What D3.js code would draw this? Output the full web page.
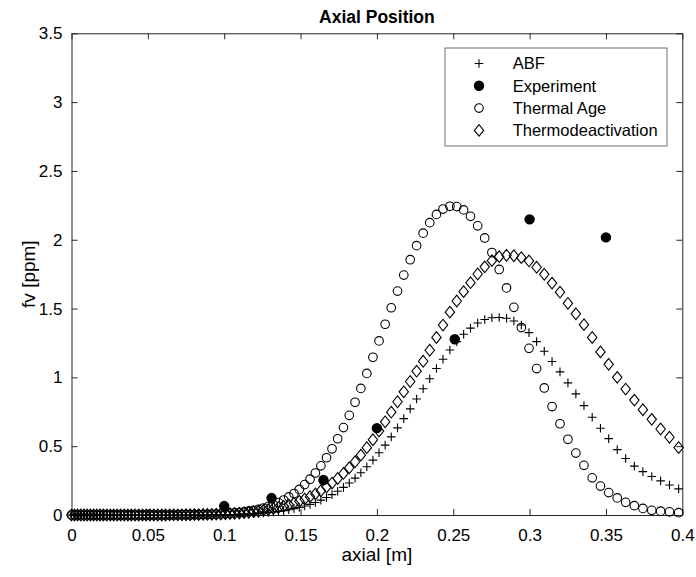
<!DOCTYPE html>
<html>
<head>
<meta charset="utf-8">
<script src="https://cdn.jsdelivr.net/npm/d3@7"></script>
<style>
  body { margin: 0; background: #fff; }
  svg { display: block; }
  text { font-family: "Liberation Sans", Arial, sans-serif; fill: #000; }
</style>
</head>
<body>
<div class="chart"></div>
<script>
// axial positions (m), shared by the three model series
var axial = [0, 0.002, 0.004, 0.0061, 0.0081, 0.0102, 0.0123, 0.0144, 0.0166, 0.0187,
  0.0209, 0.0231, 0.0254, 0.0276, 0.0299, 0.0322, 0.0345, 0.0369, 0.0392, 0.0416,
  0.044, 0.0465, 0.0489, 0.0514, 0.0539, 0.0565, 0.0591, 0.0616, 0.0643, 0.0669,
  0.0696, 0.0723, 0.075, 0.0777, 0.0805, 0.0833, 0.0862, 0.089, 0.0919, 0.0948,
  0.0978, 0.1008, 0.1038, 0.1068, 0.1099, 0.113, 0.1161, 0.1193, 0.1224, 0.1257,
  0.1289, 0.1322, 0.1355, 0.1389, 0.1423, 0.1457, 0.1492, 0.1527, 0.1562, 0.1597,
  0.1633, 0.167, 0.1706, 0.1743, 0.1781, 0.1819, 0.1857, 0.1895, 0.1934, 0.1974,
  0.2014, 0.2054, 0.2094, 0.2135, 0.2176, 0.2218, 0.226, 0.2303, 0.2346, 0.239,
  0.2433, 0.2478, 0.2523, 0.2568, 0.2613, 0.266, 0.2706, 0.2753, 0.2801, 0.2849,
  0.2897, 0.2946, 0.2996, 0.3046, 0.3096, 0.3147, 0.3199, 0.3251, 0.3303, 0.3356,
  0.341, 0.3464, 0.3518, 0.3574, 0.3629, 0.3686, 0.3742, 0.38, 0.3858, 0.3916, 0.3976];

var abf = [0, 0, 0, 0, 0, 0, 0, 0, 0, 0,
  0, 0, 0, 0, 0, 0, 0, 0, 0, 0,
  0, 0, 0, 0, 0, 0, 0, 0, 0, 0,
  0, 0, 0, 0, 0.001, 0.001, 0.001, 0.001, 0.002, 0.002,
  0.002, 0.003, 0.004, 0.004, 0.006, 0.007, 0.008, 0.010, 0.012, 0.015,
  0.018, 0.022, 0.026, 0.032, 0.038, 0.046, 0.055, 0.065, 0.077, 0.091,
  0.108, 0.127, 0.148, 0.173, 0.201, 0.233, 0.268, 0.307, 0.351, 0.399,
  0.452, 0.508, 0.568, 0.633, 0.700, 0.771, 0.843, 0.917, 0.990, 1.064,
  1.132, 1.199, 1.260, 1.313, 1.358, 1.395, 1.420, 1.433, 1.435, 1.430,
  1.410, 1.380, 1.325, 1.260, 1.190, 1.115, 1.040, 0.960, 0.880, 0.795,
  0.710, 0.630, 0.555, 0.475, 0.410, 0.355, 0.315, 0.280, 0.248, 0.218, 0.190];

var thermalAge = [0, 0, 0, 0, 0, 0, 0, 0, 0, 0,
  0, 0, 0, 0, 0, 0, 0, 0, 0, 0,
  0, 0, 0, 0, 0, 0, 0, 0, 0, 0,
  0.001, 0.001, 0.001, 0.001, 0.002, 0.002, 0.003, 0.004, 0.005, 0.006,
  0.008, 0.009, 0.012, 0.015, 0.018, 0.022, 0.028, 0.034, 0.041, 0.051,
  0.061, 0.075, 0.090, 0.109, 0.131, 0.156, 0.186, 0.221, 0.260, 0.305,
  0.357, 0.416, 0.481, 0.554, 0.635, 0.724, 0.819, 0.920, 1.029, 1.146,
  1.265, 1.386, 1.506, 1.627, 1.743, 1.855, 1.957, 2.048, 2.124, 2.184,
  2.223, 2.243, 2.241, 2.217, 2.170, 2.101, 2.013, 1.907, 1.784, 1.650,
  1.509, 1.362, 1.211, 1.064, 0.923, 0.788, 0.663, 0.550, 0.450, 0.361,
  0.270, 0.210, 0.163, 0.124, 0.092, 0.068, 0.048, 0.034, 0.028, 0.023, 0.017];

var thermoDeact = [0, 0, 0, 0, 0, 0, 0, 0, 0, 0,
  0, 0, 0, 0, 0, 0, 0, 0, 0, 0,
  0, 0, 0, 0, 0, 0, 0, 0, 0.001, 0.001,
  0.001, 0.001, 0.002, 0.002, 0.003, 0.003, 0.004, 0.004, 0.005, 0.006,
  0.007, 0.009, 0.010, 0.012, 0.014, 0.017, 0.020, 0.024, 0.028, 0.034,
  0.039, 0.046, 0.054, 0.063, 0.074, 0.085, 0.100, 0.116, 0.133, 0.153,
  0.176, 0.203, 0.232, 0.265, 0.302, 0.343, 0.387, 0.435, 0.489, 0.547,
  0.610, 0.677, 0.747, 0.823, 0.895, 0.970, 1.045, 1.117, 1.197, 1.290,
  1.380, 1.474, 1.555, 1.623, 1.688, 1.751, 1.803, 1.848, 1.877, 1.887,
  1.884, 1.870, 1.846, 1.800, 1.749, 1.685, 1.619, 1.538, 1.462, 1.383,
  1.290, 1.185, 1.095, 1.000, 0.915, 0.835, 0.765, 0.695, 0.625, 0.565, 0.490];

// measured points
var expX = [0.1, 0.131, 0.165, 0.2, 0.251, 0.3, 0.35];
var expY = [0.065, 0.123, 0.254, 0.631, 1.277, 2.148, 2.017];

var xTicks = [0, 0.05, 0.1, 0.15, 0.2, 0.25, 0.3, 0.35, 0.4];
var xTickLabels = ["0", "0.05", "0.1", "0.15", "0.2", "0.25", "0.3", "0.35", "0.4"];
var yTicks = [0, 0.5, 1, 1.5, 2, 2.5, 3, 3.5];
var yTickLabels = ["0", "0.5", "1", "1.5", "2", "2.5", "3", "3.5"];
var legendLabels = ["ABF", "Experiment", "Thermal Age", "Thermodeactivation"];

var width = 696, height = 577;
var plot = { left: 71.5, right: 682.3, top: 33.3, bottom: 515 };
var axisColor = "#262626";

var svg = d3.select(".chart").append("svg")
    .attr("width", width)
    .attr("height", height);

var x = d3.scaleLinear().domain([0, 0.4]).range([plot.left, plot.right]);
var y = d3.scaleLinear().domain([0, 3.5]).range([plot.bottom, plot.top]);

var plusPath = "M-4.3,0H4.3M0,-4.3V4.3";
var diamondPath = "M0,-5.8L4.7,0L0,5.8L-4.7,0Z";

// axes (ticks point inward, box on)
function styleAxis(g) {
  g.select(".domain").attr("stroke", axisColor);
  g.selectAll(".tick line").attr("stroke", axisColor);
  g.selectAll(".tick text").attr("fill", "#262626").attr("font-size", "17px")
    .attr("font-family", "Liberation Sans, Arial, sans-serif");
}

svg.append("g")
    .attr("transform", "translate(0," + plot.bottom + ")")
    .call(d3.axisBottom(x).tickValues(xTicks)
      .tickFormat(function(d, i) { return xTickLabels[i]; })
      .tickSizeInner(-6).tickSizeOuter(0).tickPadding(14))
    .call(styleAxis);

svg.append("g")
    .attr("transform", "translate(0," + plot.top + ")")
    .call(d3.axisTop(x).tickValues(xTicks).tickFormat("")
      .tickSizeInner(-6).tickSizeOuter(0))
    .call(styleAxis);

svg.append("g")
    .attr("transform", "translate(" + plot.left + ",0)")
    .call(d3.axisLeft(y).tickValues(yTicks)
      .tickFormat(function(d, i) { return yTickLabels[i]; })
      .tickSizeInner(-6).tickSizeOuter(0).tickPadding(9))
    .call(styleAxis);

svg.append("g")
    .attr("transform", "translate(" + plot.right + ",0)")
    .call(d3.axisRight(y).tickValues(yTicks).tickFormat("")
      .tickSizeInner(-6).tickSizeOuter(0))
    .call(styleAxis);

// series
var pts = axial.map(function(d, i) {
  return { x: d, abf: abf[i], ta: thermalAge[i], td: thermoDeact[i] };
});

svg.append("g").selectAll("path")
    .data(pts)
    .enter().append("path")
    .attr("transform", function(d) { return "translate(" + x(d.x) + "," + y(d.abf) + ")"; })
    .attr("d", plusPath)
    .attr("stroke", "#000")
    .attr("stroke-width", 1.1)
    .attr("fill", "none");

svg.append("g").selectAll("circle")
    .data(expX)
    .enter().append("circle")
    .attr("cx", function(d) { return x(d); })
    .attr("cy", function(d, i) { return y(expY[i]); })
    .attr("r", 5.2)
    .attr("fill", "#000");

svg.append("g").selectAll("circle")
    .data(pts)
    .enter().append("circle")
    .attr("cx", function(d) { return x(d.x); })
    .attr("cy", function(d) { return y(d.ta); })
    .attr("r", 4.3)
    .attr("stroke", "#000")
    .attr("stroke-width", 1.1)
    .attr("fill", "none");

svg.append("g").selectAll("path")
    .data(pts)
    .enter().append("path")
    .attr("transform", function(d) { return "translate(" + x(d.x) + "," + y(d.td) + ")"; })
    .attr("d", diamondPath)
    .attr("stroke", "#000")
    .attr("stroke-width", 1.1)
    .attr("fill", "none");

// title and labels
svg.append("text")
    .attr("x", (plot.left + plot.right) / 2)
    .attr("y", 23)
    .attr("text-anchor", "middle")
    .attr("font-size", "17.5px")
    .attr("font-weight", "bold")
    .text("Axial Position");

svg.append("text")
    .attr("x", (plot.left + plot.right) / 2)
    .attr("y", 561)
    .attr("text-anchor", "middle")
    .attr("font-size", "19px")
    .attr("fill", "#262626")
    .text("axial [m]");

svg.append("text")
    .attr("transform", "translate(35," + ((plot.top + plot.bottom) / 2) + ") rotate(-90)")
    .attr("text-anchor", "middle")
    .attr("font-size", "19px")
    .attr("fill", "#262626")
    .text("fv [ppm]");

// legend
var legend = svg.append("g").attr("transform", "translate(445,48)");
legend.append("rect")
    .attr("width", 222)
    .attr("height", 98)
    .attr("fill", "#fff")
    .attr("stroke", "#6e6e6e")
    .attr("stroke-width", 1);

var rows = legend.selectAll("g.row")
    .data(legendLabels)
    .enter().append("g")
    .attr("class", "row")
    .attr("transform", function(d, i) { return "translate(0," + (15.5 + i * 22.3) + ")"; });

rows.append("text")
    .attr("x", 67.7)
    .attr("dy", "0.35em")
    .attr("font-size", "16.5px")
    .text(function(d) { return d; });

rows.each(function(d, i) {
  var r = d3.select(this);
  if (i == 0) {
    r.append("path").attr("transform", "translate(34,0)").attr("d", plusPath)
      .attr("stroke", "#000").attr("stroke-width", 1.1).attr("fill", "none");
  }
  if (i == 1) {
    r.append("circle").attr("cx", 34).attr("r", 5.2).attr("fill", "#000");
  }
  if (i == 2) {
    r.append("circle").attr("cx", 34).attr("r", 4.3)
      .attr("stroke", "#000").attr("stroke-width", 1.1).attr("fill", "none");
  }
  if (i == 3) {
    r.append("path").attr("transform", "translate(34,0)").attr("d", diamondPath)
      .attr("stroke", "#000").attr("stroke-width", 1.1).attr("fill", "none");
  }
});
</script>
</body>
</html>
